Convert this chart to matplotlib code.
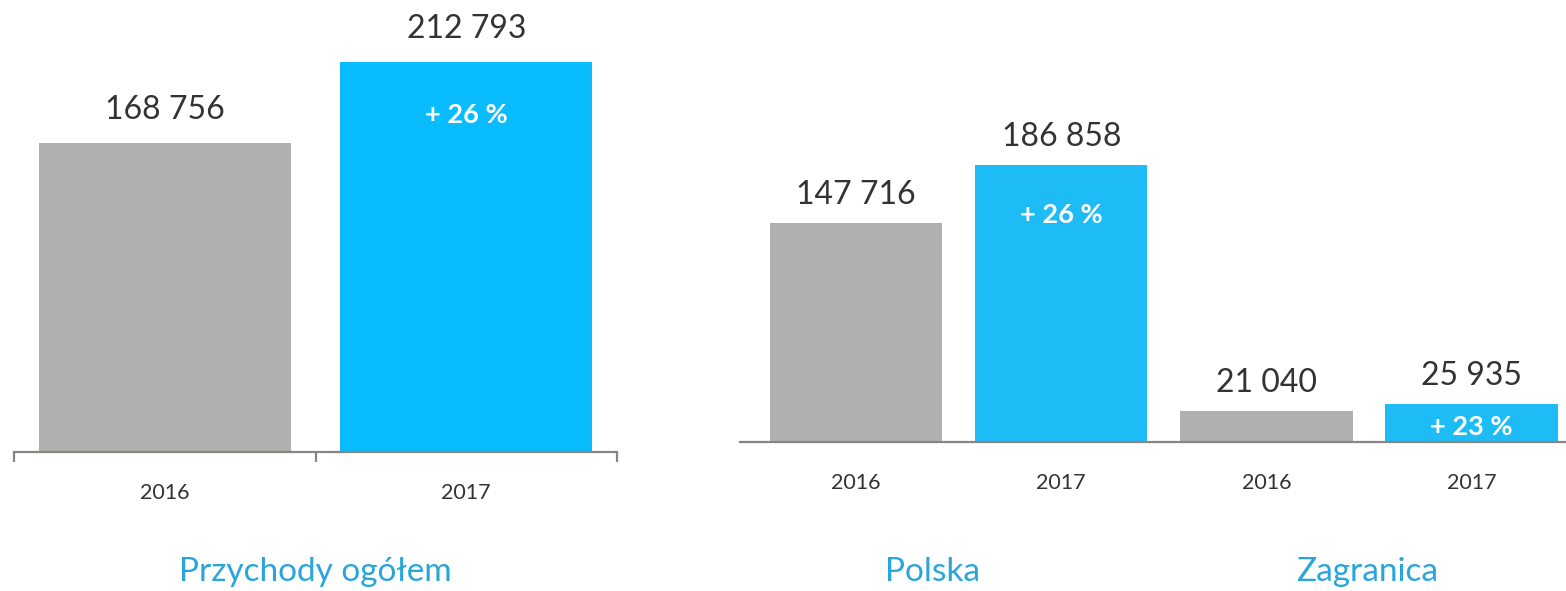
import matplotlib.pyplot as plt
import matplotlib.transforms as mtransforms

plt.rcParams['font.family'] = ['Lato', 'DejaVu Sans']

# data
years = ['2016', '2017']
total = [168756, 212793]
total_growth = '+ 26 %'

groups = ['Polska', 'Zagranica']
split = [147716, 186858, 21040, 25935]
split_growth = ['+ 26 %', '+ 23 %']
split_years = ['2016', '2017', '2016', '2017']

W, H = 1566, 591
gray = '#B0B0B0'
spine_c = '#8A8580'
txt = '#333333'
lbl_blue = '#2AA5DB'

fig = plt.figure(figsize=(W / 100, H / 100), dpi=100)


def fmt(v):
    return f'{v:,}'.replace(',', ' ')


def px_axes(x0, x1, base, top):
    return fig.add_axes([x0 / W, (H - base) / H, (x1 - x0) / W, (base - top) / H])


# ---- left chart: total revenue
ax1 = px_axes(14, 617, 452, 12)
ax1.bar([0, 1], total, width=0.836, color=[gray, '#08BCFD'])
ax1.set_xlim(-0.5, 1.5)
ax1.set_ylim(0, 168756 * 440 / 309)
for s in ['top', 'right', 'left']:
    ax1.spines[s].set_visible(False)
ax1.spines['bottom'].set_color(spine_c)
ax1.spines['bottom'].set_linewidth(1.6)
ax1.set_yticks([])
ax1.set_xticks([0, 1])
ax1.set_xticklabels(years, fontsize=15.5, color=txt)
ax1.tick_params(axis='x', which='major', length=0, pad=22)
ax1.set_xticks([-0.5, 0.5, 1.5], minor=True)
ax1.tick_params(axis='x', which='minor', length=7, width=1.6, color=spine_c, direction='out')
for i, v in enumerate(total):
    ax1.annotate(fmt(v), (i, v), xytext=(0, 13), textcoords='offset points',
                 ha='center', va='bottom', fontsize=23, color=txt)
ax1.annotate(total_growth, (1, total[1]), xytext=(0, -38), textcoords='offset points',
             ha='center', va='center', fontsize=19.5, color='white', fontweight='bold')
tr1 = mtransforms.blended_transform_factory(ax1.transData, fig.transFigure)
ax1.text(0.5, (H - 572) / H, 'Przychody ogółem', transform=tr1, ha='center', va='center',
         fontsize=24, color=lbl_blue)

# ---- right chart: Polska / Zagranica
ax2 = px_axes(740, 1566, 442, 2)
xs = [0, 1, 2, 3]
ax2.bar(xs, split, width=0.84, color=[gray, '#1DBCF6', gray, '#1DBCF6'])
ax2.set_xlim(-0.566, 3.46)
ax2.set_ylim(0, 147716 * 440 / 219)
for s in ['top', 'right', 'left']:
    ax2.spines[s].set_visible(False)
ax2.spines['bottom'].set_color(spine_c)
ax2.spines['bottom'].set_linewidth(1.6)
ax2.set_yticks([])
ax2.set_xticks(xs)
ax2.set_xticklabels(split_years, fontsize=15.5, color=txt)
ax2.tick_params(axis='x', length=0, pad=22)
for i, v in enumerate(split):
    ax2.annotate(fmt(v), (i, v), xytext=(0, 9), textcoords='offset points',
                 ha='center', va='bottom', fontsize=23, color=txt)
for k, g in enumerate(split_growth):
    i = 2 * k + 1
    off = -36 if split[i] > 100000 else -17
    ax2.annotate(g, (i, split[i]), xytext=(0, off), textcoords='offset points',
                 ha='center', va='center', fontsize=19.5, color='white', fontweight='bold')
tr2 = mtransforms.blended_transform_factory(ax2.transData, fig.transFigure)
for x, g in zip([0.37, 2.49], groups):
    ax2.text(x, (H - 572) / H, g, transform=tr2,
             ha='center', va='center', fontsize=24, color=lbl_blue)

fig.savefig('out.png', dpi=100)
